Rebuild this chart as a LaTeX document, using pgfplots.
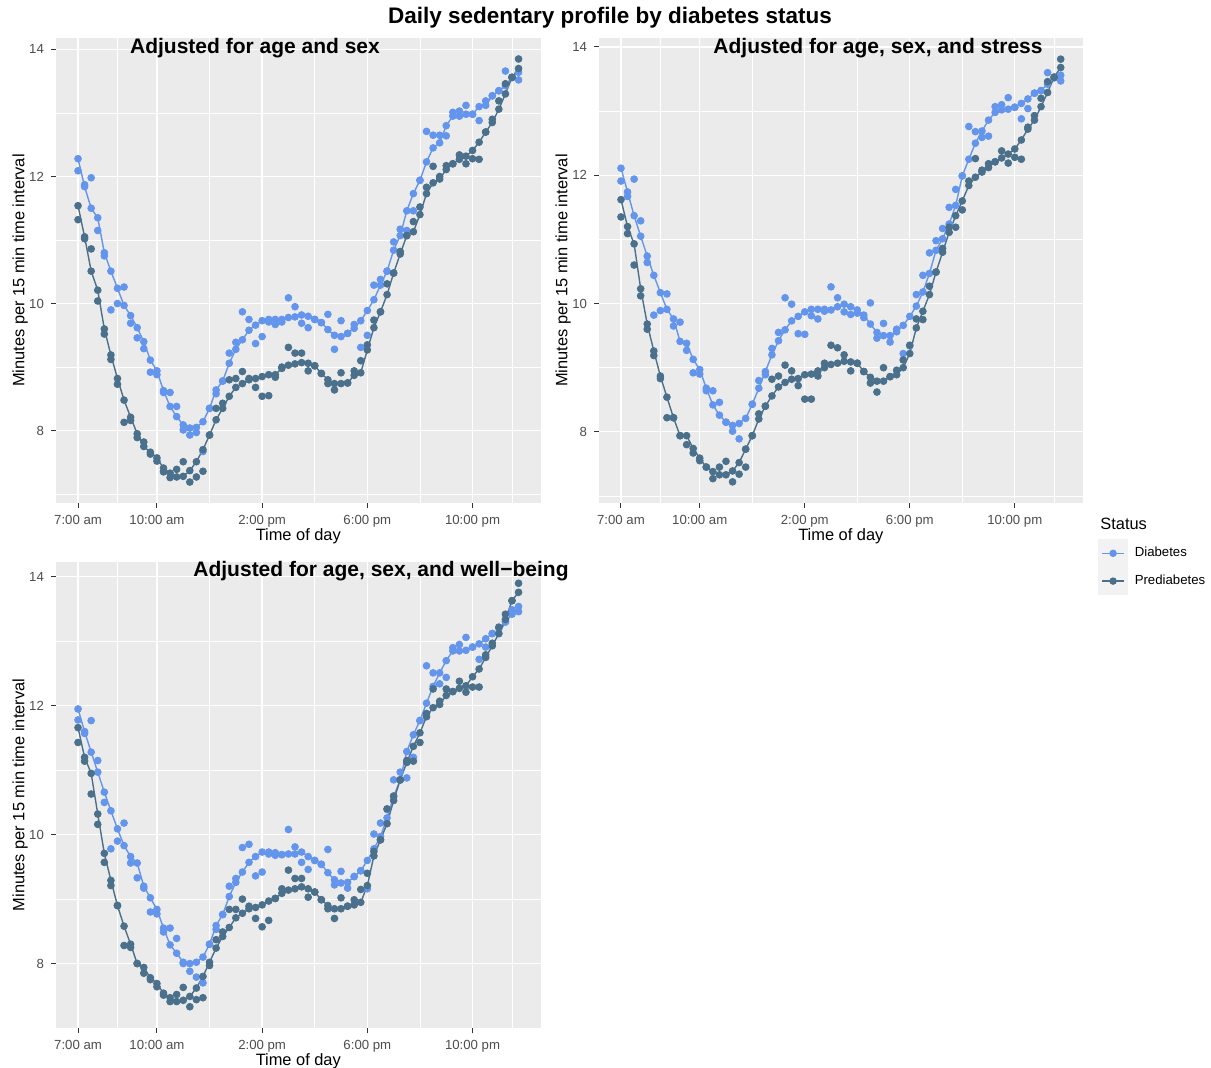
\documentclass[border=0pt]{standalone}
\usepackage{pgfplots}
\pgfplotsset{compat=1.18}
\usepackage{pgfplotstable}
\usepackage{fontspec}
\setmainfont{Liberation Sans}
\definecolor{diab}{HTML}{6495ED}
\definecolor{pred}{HTML}{4A708B}
\definecolor{panelbg}{HTML}{EBEBEB}
\definecolor{ticklab}{HTML}{4D4D4D}
\definecolor{tickcol}{HTML}{333333}
\definecolor{keybg}{HTML}{F2F2F2}

% t = hour of day; d1,d2 = Diabetes points (d1 on line); p1,p2 = Prediabetes points (p1 on line)
\pgfplotstableread{
t d1 d2 p1 p2
7.00 12.28 12.09 11.54 11.32
7.25 11.84 11.87 11.05 11.02
7.50 11.50 11.98 10.51 10.86
7.75 11.35 11.15 10.21 10.04
8.00 10.80 10.75 9.60 9.52
8.25 10.51 9.90 9.19 9.12
8.50 10.24 10.00 8.82 8.73
8.75 9.97 10.26 8.48 8.13
9.00 9.81 9.69 8.21 8.16
9.25 9.62 9.46 7.95 7.89
9.50 9.40 9.29 7.75 7.82
9.75 9.11 8.92 7.66 7.63
10.00 8.94 8.88 7.57 7.52
10.25 8.63 8.60 7.41 7.35
10.50 8.38 8.60 7.33 7.26
10.75 8.22 8.38 7.27 7.39
11.00 8.09 8.01 7.28 7.51
11.25 8.04 7.93 7.37 7.19
11.50 8.05 7.97 7.51 7.27
11.75 8.14 7.67 7.70 7.36
12.00 8.35 8.35 7.93 7.93
12.25 8.64 8.58 8.17 8.35
12.50 8.78 8.78 8.35 8.43
12.75 9.06 9.22 8.54 8.80
13.00 9.28 9.39 8.68 8.82
13.25 9.43 9.87 8.74 8.93
13.50 9.58 9.75 8.80 8.82
13.75 9.66 9.37 8.82 8.68
14.00 9.73 9.48 8.85 8.54
14.25 9.75 9.71 8.88 8.55
14.50 9.75 9.67 8.88 8.84
14.75 9.75 9.71 8.98 9.00
15.00 9.78 10.09 9.03 9.31
15.25 9.79 9.95 9.05 9.22
15.50 9.82 9.69 9.07 9.22
15.75 9.80 9.62 9.06 8.94
16.00 9.75 9.75 9.02 9.02
16.25 9.70 9.70 8.90 8.90
16.50 9.59 9.83 8.80 8.74
16.75 9.50 9.28 8.74 8.64
17.00 9.48 9.73 8.74 8.91
17.25 9.53 9.53 8.75 8.75
17.50 9.61 9.67 8.87 8.94
17.75 9.73 9.31 8.91 9.10
18.00 9.89 9.50 9.27 9.35
18.25 10.06 10.29 9.62 9.74
18.50 10.29 10.38 9.87 9.87
18.75 10.51 10.51 10.14 10.31
19.00 10.84 10.97 10.48 10.48
19.25 11.07 11.17 10.78 10.82
19.50 11.46 11.15 11.07 11.07
19.75 11.73 11.46 11.13 11.29
20.00 11.94 11.94 11.40 11.52
20.25 12.23 12.71 11.73 11.83
20.50 12.45 12.65 11.90 12.16
20.75 12.53 12.65 11.96 12.00
21.00 12.80 12.64 12.11 12.17
21.25 12.95 13.01 12.20 12.20
21.50 12.95 13.03 12.27 12.34
21.75 12.98 13.12 12.32 12.20
22.00 12.98 12.98 12.41 12.28
22.25 13.10 12.88 12.54 12.27
22.50 13.12 13.19 12.70 12.70
22.75 13.27 13.27 12.85 12.90
23.00 13.35 13.35 13.06 13.19
23.25 13.43 13.66 13.30 13.46
23.50 13.56 13.56 13.56 13.56
23.75 13.64 13.52 13.70 13.85
}\dataA

\pgfplotstableread{
t d1 d2 p1 p2
7.00 12.11 11.91 11.62 11.35
7.25 11.74 11.67 11.20 11.09
7.50 11.37 11.94 10.93 10.60
7.75 11.05 11.29 10.23 10.12
8.00 10.74 10.64 9.68 9.60
8.25 10.44 9.82 9.26 9.19
8.50 10.17 9.89 8.87 8.83
8.75 9.91 10.15 8.54 8.22
9.00 9.76 9.65 8.22 8.22
9.25 9.41 9.71 7.94 7.94
9.50 9.38 9.27 7.94 7.80
9.75 9.13 8.92 7.74 7.67
10.00 8.97 8.90 7.59 7.55
10.25 8.68 8.64 7.45 7.45
10.50 8.42 8.64 7.38 7.27
10.75 8.26 8.46 7.33 7.45
11.00 8.15 8.15 7.33 7.54
11.25 8.10 8.01 7.39 7.22
11.50 8.13 7.89 7.52 7.34
11.75 8.21 7.73 7.73 7.45
12.00 8.43 8.43 7.94 7.94
12.25 8.68 8.80 8.20 8.28
12.50 8.94 8.89 8.40 8.40
12.75 9.20 9.30 8.56 8.82
13.00 9.42 9.55 8.70 8.87
13.25 9.59 10.09 8.77 9.04
13.50 9.73 9.99 8.82 8.95
13.75 9.80 9.53 8.83 8.72
14.00 9.87 9.52 8.89 8.51
14.25 9.91 9.81 8.90 8.51
14.50 9.91 9.76 8.95 8.87
14.75 9.91 9.88 9.00 9.07
15.00 9.90 10.26 9.05 9.35
15.25 9.95 10.09 9.07 9.31
15.50 9.99 9.87 9.10 9.20
15.75 9.95 9.83 9.09 8.95
16.00 9.90 9.85 9.07 9.07
16.25 9.82 9.78 8.94 8.94
16.50 9.68 10.01 8.85 8.76
16.75 9.55 9.46 8.79 8.62
17.00 9.50 9.69 8.79 9.00
17.25 9.50 9.40 8.86 8.86
17.50 9.56 9.60 8.89 8.96
17.75 9.66 9.22 9.00 9.12
18.00 9.80 9.34 9.22 9.35
18.25 9.96 10.14 9.62 9.76
18.50 10.18 10.44 9.88 9.75
18.75 10.47 10.79 10.14 10.27
19.00 10.83 10.98 10.49 10.49
19.25 11.01 11.17 10.80 10.86
19.50 11.24 11.50 11.11 11.19
19.75 11.53 11.78 11.37 11.19
20.00 11.99 11.99 11.60 11.46
20.25 12.25 12.76 11.84 11.91
20.50 12.50 12.68 11.97 12.26
20.75 12.69 12.59 12.05 12.08
21.00 12.86 12.61 12.12 12.18
21.25 12.98 13.07 12.21 12.21
21.50 13.02 13.10 12.27 12.38
21.75 13.03 13.21 12.33 12.19
22.00 13.06 13.06 12.41 12.28
22.25 13.12 12.88 12.55 12.25
22.50 13.19 13.04 12.72 12.75
22.75 13.28 13.28 12.86 12.93
23.00 13.32 13.32 13.07 13.20
23.25 13.42 13.60 13.29 13.46
23.50 13.52 13.52 13.53 13.53
23.75 13.56 13.47 13.68 13.81
}\dataB

\pgfplotstableread{
t d1 d2 p1 p2
7.00 11.95 11.78 11.66 11.43
7.25 11.60 11.57 11.20 11.14
7.50 11.28 11.77 10.95 10.63
7.75 10.97 11.15 10.32 10.16
8.00 10.66 10.50 9.71 9.57
8.25 10.37 9.78 9.29 9.21
8.50 10.09 9.90 8.90 8.90
8.75 9.83 10.18 8.58 8.28
9.00 9.66 9.56 8.30 8.25
9.25 9.56 9.33 8.00 8.00
9.50 9.20 9.17 7.94 7.85
9.75 9.02 8.80 7.78 7.75
10.00 8.84 8.77 7.69 7.64
10.25 8.55 8.49 7.54 7.51
10.50 8.29 8.55 7.47 7.41
10.75 8.16 8.39 7.41 7.52
11.00 8.02 8.00 7.43 7.63
11.25 8.00 7.88 7.49 7.33
11.50 8.02 7.79 7.62 7.44
11.75 8.10 7.70 7.80 7.47
12.00 8.30 8.30 8.02 7.97
12.25 8.59 8.53 8.24 8.37
12.50 8.76 8.76 8.42 8.49
12.75 9.04 9.20 8.56 8.84
13.00 9.26 9.32 8.71 8.84
13.25 9.42 9.80 8.78 9.00
13.50 9.57 9.85 8.85 8.89
13.75 9.66 9.36 8.87 8.70
14.00 9.73 9.42 8.91 8.57
14.25 9.73 9.70 8.97 8.67
14.50 9.72 9.68 9.01 9.01
14.75 9.69 9.69 9.09 9.16
15.00 9.70 10.08 9.14 9.45
15.25 9.70 9.81 9.16 9.32
15.50 9.73 9.57 9.19 9.32
15.75 9.66 9.46 9.16 9.03
16.00 9.60 9.60 9.11 9.11
16.25 9.54 9.54 8.99 8.99
16.50 9.41 9.77 8.90 8.85
16.75 9.30 9.22 8.85 8.70
17.00 9.25 9.43 8.85 9.02
17.25 9.26 9.17 8.89 8.89
17.50 9.35 9.35 8.91 8.99
17.75 9.44 9.44 8.95 9.15
18.00 9.60 9.16 9.21 9.40
18.25 9.78 10.01 9.67 9.74
18.50 9.97 10.18 9.92 9.92
18.75 10.26 10.39 10.17 10.40
19.00 10.59 10.85 10.53 10.60
19.25 10.85 10.97 10.85 10.85
19.50 11.29 10.88 11.12 11.15
19.75 11.55 11.20 11.37 11.14
20.00 11.77 11.77 11.58 11.43
20.25 12.04 12.62 11.83 11.88
20.50 12.30 12.51 11.97 12.26
20.75 12.51 12.34 12.02 12.07
21.00 12.70 12.44 12.16 12.26
21.25 12.85 12.90 12.22 12.22
21.50 12.85 12.95 12.27 12.38
21.75 12.86 13.06 12.31 12.21
22.00 12.91 12.91 12.45 12.29
22.25 12.96 12.72 12.57 12.29
22.50 13.04 12.91 12.75 12.79
22.75 13.12 13.12 12.93 12.97
23.00 13.12 13.20 13.12 13.22
23.25 13.30 13.30 13.34 13.42
23.50 13.42 13.49 13.63 13.63
23.75 13.54 13.46 13.76 13.90
}\dataC

\pgfplotsset{
  panel/.style={
    scale only axis, width=242.3pt, height=232.5pt,
    xmin=6.1625, xmax=24.5875,
    axis background/.style={fill=panelbg},
    axis line style={draw=none},
    xtick={7,10,14,18,22},
    xticklabels={7:00 am,10:00 am,2:00 pm,6:00 pm,10:00 pm},
    minor xtick={8.5,12,16,20,23.5},
    ytick={8,10,12,14},
    minor ytick={7,9,11,13},
    grid=both,
    major grid style={white, line width=0.65pt},
    minor grid style={white, line width=0.35pt},
    tick align=outside,
    xtick pos=bottom, ytick pos=left,
    major tick length=2.5pt,
    minor tick length=0pt,
    tick style={tickcol, line width=0.5pt},
    ticklabel style={font=\fontsize{6.6}{8}\selectfont, text=ticklab},
    /pgf/number format/assume math mode=true,
    xlabel={Time of day},
    ylabel={Minutes per 15 min time interval},
    label style={font=\fontsize{8.2}{10}\selectfont},
    xlabel style={at={(axis description cs:0.5,-0.071)}, anchor=center},
    ylabel style={at={(axis description cs:-0.074,0.5)}, anchor=center},
  },
  ptsD/.style={only marks, mark=*, mark size=1.7pt, color=diab, forget plot},
  ptsP/.style={only marks, mark=*, mark size=1.7pt, color=pred, forget plot},
  lnD/.style={no markers, line width=0.7pt, color=diab, forget plot},
  lnP/.style={no markers, line width=0.7pt, color=pred, forget plot},
}

\begin{document}
\begin{tikzpicture}
\useasboundingbox (0pt,0pt) rectangle (605.5pt,-533.5pt);

% Panel 1
\begin{axis}[panel, at={(28pt,-19pt)}, anchor=north west, ymin=6.86, ymax=14.18]
\addplot[ptsD] table[x=t,y=d1]{\dataA};
\addplot[ptsD] table[x=t,y=d2]{\dataA};
\addplot[ptsP] table[x=t,y=p1]{\dataA};
\addplot[ptsP] table[x=t,y=p2]{\dataA};
\addplot[lnD] table[x=t,y=d1]{\dataA};
\addplot[lnP] table[x=t,y=p1]{\dataA};
\end{axis}

% Panel 2
\begin{axis}[panel, at={(299.5pt,-19pt)}, anchor=north west, width=241.85pt, ymin=6.89, ymax=14.14,
  legend style={at={(axis description cs:1.0316,-0.0774)}, anchor=north west, draw=none, fill=none,
    font=\fontsize{6.6}{8}\selectfont, inner sep=0pt, row sep=0pt, column sep=1.5pt},
  legend cell align=left,
  legend image code/.code={
    \fill[keybg] (0pt,-6.6pt) rectangle (14pt,6.6pt);
    \draw[mark repeat=2,mark phase=2,#1] plot coordinates {(1.5pt,0pt) (7pt,0pt) (12.5pt,0pt)};
  }]
\addplot[ptsD] table[x=t,y=d1]{\dataB};
\addplot[ptsD] table[x=t,y=d2]{\dataB};
\addplot[ptsP] table[x=t,y=p1]{\dataB};
\addplot[ptsP] table[x=t,y=p2]{\dataB};
\addplot[lnD] table[x=t,y=d1]{\dataB};
\addplot[lnP] table[x=t,y=p1]{\dataB};
\addlegendimage{diab, line width=0.7pt, mark=*, mark size=1.5pt}
\addlegendentry{Diabetes}
\addlegendimage{pred, line width=0.7pt, mark=*, mark size=1.5pt}
\addlegendentry{Prediabetes}
\end{axis}

% Panel 3
\begin{axis}[panel, at={(28pt,-281pt)}, anchor=north west, height=233pt, ymin=7.0, ymax=14.23]
\addplot[ptsD] table[x=t,y=d1]{\dataC};
\addplot[ptsD] table[x=t,y=d2]{\dataC};
\addplot[ptsP] table[x=t,y=p1]{\dataC};
\addplot[ptsP] table[x=t,y=p2]{\dataC};
\addplot[lnD] table[x=t,y=d1]{\dataC};
\addplot[lnP] table[x=t,y=p1]{\dataC};
\end{axis}

% Titles
\node[font=\fontsize{11.25}{13}\selectfont\bfseries] at (305pt,-9pt) {Daily sedentary profile by diabetes status};
\node[font=\fontsize{10.5}{12}\selectfont\bfseries] at (127.5pt,-24pt) {Adjusted for age and sex};
\node[font=\fontsize{10.5}{12}\selectfont\bfseries] at (439pt,-24pt) {Adjusted for age, sex, and stress};
\node[font=\fontsize{10.5}{12}\selectfont\bfseries] at (190.5pt,-285.5pt) {Adjusted for age, sex, and well−being};
\node[font=\fontsize{8.2}{10}\selectfont, anchor=west, inner sep=0pt] at (550pt,-262pt) {Status};
\end{tikzpicture}
\end{document}
